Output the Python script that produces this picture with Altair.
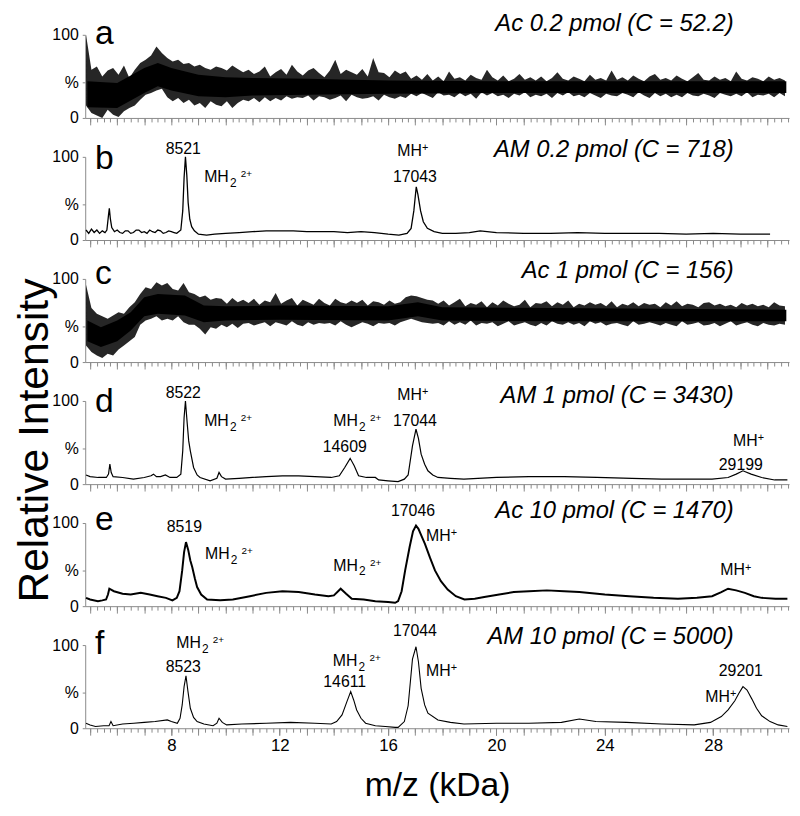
import altair as alt
import pandas as pd

FONT = "Liberation Sans"
X_DOMAIN = [4.82, 30.8]
PANEL_W, PANEL_H = 711, 84
GAP = 39.3

LETTERS = ["a", "b", "c", "d", "e", "f"]
TITLES = [
    "Ac 0.2 pmol (C = 52.2)",
    "AM 0.2 pmol (C = 718)",
    "Ac 1 pmol (C = 156)",
    "AM 1 pmol (C = 3430)",
    "Ac 10 pmol (C = 1470)",
    "AM 10 pmol (C = 5000)",
]
LETTER_Y = [9, 12, 5, 11, 7, 9]
TITLE_Y = [-4, 0, -1, 2, -5, -1]

X_LABELS = [8, 12, 16, 20, 24, 28]
X_MAJOR = list(range(5, 31))
X_MINOR = [5 + 0.25 * i for i in range(104)]

# noisy spectra (a, c): upper / lower envelope pairs, one pair every 0.2 kDa from 4.85 kDa
NOISE_START = 4.85
NOISE_STEP = 0.2
A_VALS = [
    100, 15, 58, 6, 62, 3, 50, 0, 57, 10,
    60, 4, 52, 1, 63, 8, 48, 12, 58, 15,
    66, 22, 70, 28, 75, 30, 86, 33, 78, 35,
    72, 25, 68, 20, 70, 24, 65, 18, 66, 22,
    62, 15, 64, 18, 60, 12, 58, 20, 62, 16,
    60, 14, 57, 20, 63, 12, 59, 18, 55, 22,
    58, 20, 53, 24, 56, 19, 62, 25, 50, 20,
    55, 24, 59, 21, 52, 26, 64, 23, 56, 25,
    51, 24, 57, 27, 60, 21, 54, 26, 49, 25,
    57, 22, 70, 24, 53, 27, 58, 20, 55, 28,
    52, 25, 59, 23, 50, 24, 72, 26, 55, 21,
    54, 28, 49, 25, 57, 23, 53, 26, 56, 24,
    47, 29, 51, 26, 46, 30, 53, 27, 45, 24,
    50, 31, 44, 27, 56, 28, 47, 25, 49, 30,
    45, 26, 52, 29, 48, 23, 46, 31, 58, 27,
    49, 30, 45, 26, 51, 28, 44, 24, 47, 29,
    53, 27, 46, 31, 49, 25, 45, 28, 50, 26,
    44, 29, 48, 24, 55, 30, 47, 27, 45, 31,
    50, 26, 47, 28, 44, 25, 52, 30, 46, 27,
    48, 24, 45, 29, 57, 27, 46, 26, 49, 30,
    45, 28, 51, 25, 47, 31, 44, 27, 50, 24,
    53, 30, 46, 26, 48, 29, 45, 25, 51, 28,
    47, 25, 44, 30, 49, 27, 54, 26, 46, 29,
    45, 27, 50, 24, 46, 30, 48, 28, 44, 26,
    56, 29, 47, 26, 45, 31, 49, 25, 47, 28,
    44, 27, 50, 29, 46, 25, 48, 30, 45, 26,
]
C_VALS = [
    93, 20, 65, 12, 58, 8, 55, 5, 52, 10,
    56, 8, 60, 15, 58, 20, 66, 25, 72, 30,
    82, 45, 90, 50, 88, 52, 96, 55, 92, 50,
    95, 52, 88, 50, 86, 55, 95, 48, 84, 45,
    82, 45, 78, 40, 80, 33, 75, 42, 77, 40,
    76, 45, 70, 42, 77, 46, 72, 41, 75, 46,
    71, 47, 76, 44, 69, 46, 74, 48, 72, 43,
    83, 48, 70, 46, 74, 44, 77, 49, 68, 45,
    75, 43, 72, 48, 69, 45, 76, 47, 71, 46,
    68, 47, 76, 44, 72, 49, 70, 45, 74, 42,
    71, 45, 75, 48, 68, 46, 73, 43, 72, 47,
    69, 46, 74, 47, 70, 44, 72, 48, 78, 50,
    80, 52, 79, 50, 77, 48, 75, 47, 74, 46,
    70, 47, 74, 44, 68, 49, 72, 45, 76, 48,
    67, 45, 71, 50, 69, 44, 73, 47, 66, 46,
    72, 48, 68, 43, 74, 46, 70, 49, 67, 44,
    69, 46, 75, 48, 66, 45, 71, 43, 70, 47,
    73, 44, 67, 49, 72, 46, 69, 45, 74, 48,
    66, 45, 70, 47, 68, 43, 72, 49, 69, 46,
    71, 48, 67, 44, 73, 46, 66, 47, 70, 45,
    68, 43, 72, 49, 67, 45, 71, 46, 69, 48,
    70, 46, 66, 44, 72, 47, 68, 45, 73, 43,
    67, 49, 70, 45, 69, 46, 66, 48, 71, 44,
    72, 45, 68, 47, 70, 43, 67, 46, 69, 49,
    66, 44, 71, 46, 68, 48, 70, 45, 67, 43,
    69, 47, 66, 45, 72, 44, 68, 46, 67, 45,
]

# dense dark core of the noisy traces: (kDa, low, high)
A_CORE = [(4.9, 13, 44), (6.0, 12, 42), (7.0, 30, 60), (7.5, 38, 66), (8.0, 33, 60),
          (9.0, 26, 52), (10.0, 25, 49), (11.0, 27, 48), (13.0, 28, 47), (16.0, 29, 45),
          (20.0, 30, 44), (25.0, 30, 44), (30.7, 30, 44)]
C_CORE = [(4.9, 25, 50), (5.4, 18, 42), (6.0, 25, 50), (6.5, 38, 60), (7.0, 55, 78),
          (7.5, 58, 82), (8.5, 56, 80), (9.2, 48, 68), (10.0, 50, 67), (12.0, 51, 68),
          (16.0, 50, 67), (17.1, 55, 72), (18.0, 50, 66), (22.0, 49, 65), (26.0, 49, 64),
          (30.7, 49, 63)]

B_PTS = [(4.85, 12), (4.95, 8), (5.05, 13), (5.15, 9), (5.25, 12), (5.35, 8), (5.45, 11),
         (5.55, 9), (5.62, 12), (5.68, 30), (5.71, 38), (5.75, 25), (5.8, 15), (5.9, 10),
         (6.0, 12), (6.1, 9), (6.2, 8), (6.3, 11), (6.4, 11), (6.5, 8), (6.6, 9), (6.7, 12),
         (6.8, 12), (6.9, 9), (7.0, 10), (7.1, 8), (7.2, 12), (7.3, 10), (7.4, 9), (7.5, 12),
         (7.6, 11), (7.7, 8), (7.8, 9), (7.9, 11), (8.0, 10), (8.1, 9), (8.2, 8), (8.35, 12),
         (8.42, 35), (8.47, 75), (8.52, 100), (8.57, 78), (8.62, 45), (8.68, 25), (8.75, 16),
         (8.85, 11), (9.0, 7), (9.3, 6), (9.6, 7), (10.0, 8), (10.5, 9), (11.0, 10), (11.5, 11),
         (12.0, 11), (12.5, 11), (13.0, 10), (13.5, 10), (14.0, 10), (14.5, 9), (15.0, 10),
         (15.5, 9), (16.0, 7), (16.4, 6), (16.7, 8), (16.85, 14), (16.95, 35), (17.04, 64),
         (17.1, 55), (17.2, 35), (17.3, 22), (17.45, 14), (17.7, 10), (18.0, 8), (18.5, 8),
         (19.0, 9), (19.4, 11), (20.0, 9), (21.0, 8), (22.0, 8), (23.0, 9), (24.0, 8),
         (25.0, 8), (26.0, 8), (27.0, 7), (28.0, 8), (29.0, 7), (30.1, 7)]

D_PTS = [(4.85, 11), (5.0, 9), (5.3, 8), (5.6, 8), (5.68, 12), (5.73, 24), (5.78, 14),
         (5.85, 9), (6.2, 8), (6.6, 6), (7.0, 8), (7.25, 10), (7.34, 12), (7.45, 9), (7.6, 9),
         (7.78, 11), (7.95, 8), (8.2, 8), (8.35, 12), (8.42, 40), (8.47, 80), (8.52, 100),
         (8.58, 75), (8.64, 52), (8.70, 40), (8.82, 20), (8.95, 11), (9.06, 8), (9.43, 4),
         (9.68, 7), (9.76, 14), (9.85, 9), (10.0, 6), (10.5, 7), (11.0, 8), (11.5, 9),
         (12.1, 10), (12.7, 10), (13.3, 9), (13.9, 8), (14.2, 10), (14.4, 20), (14.6, 31),
         (14.75, 22), (14.91, 10), (15.2, 8), (15.53, 8), (15.65, 5), (16.0, 4), (16.37, 3),
         (16.6, 6), (16.74, 11), (16.9, 46), (17.03, 66), (17.12, 55), (17.22, 36), (17.35, 24),
         (17.47, 16), (17.65, 11), (17.84, 8), (18.3, 7), (18.8, 6), (20.0, 8), (21.2, 9),
         (22.5, 9), (23.7, 8), (25.0, 7), (26.1, 6), (27.0, 6), (27.96, 6), (28.55, 8),
         (28.85, 12), (29.1, 16), (29.4, 12), (29.79, 8), (30.27, 5), (30.74, 5)]

E_PTS = [(4.85, 10), (5.0, 8), (5.29, 6), (5.45, 7), (5.59, 8), (5.66, 14), (5.71, 21),
         (5.88, 18), (6.2, 15), (6.5, 14), (6.87, 16), (7.2, 14), (7.49, 12), (7.8, 10),
         (8.04, 7), (8.2, 10), (8.30, 18), (8.40, 43), (8.47, 65), (8.54, 77), (8.62, 68),
         (8.70, 55), (8.77, 47), (8.87, 33), (8.95, 23), (9.1, 14), (9.32, 8), (9.8, 7),
         (10.27, 8), (10.9, 12), (11.5, 16), (12.1, 18), (12.7, 17), (13.3, 14), (13.8, 12),
         (14.0, 13), (14.25, 21), (14.45, 15), (14.66, 9), (15.1, 8), (15.53, 6), (16.0, 5),
         (16.26, 4), (16.37, 6), (16.5, 18), (16.63, 43), (16.8, 72), (16.92, 90), (17.03, 97),
         (17.12, 93), (17.24, 84), (17.36, 75), (17.55, 58), (17.73, 43), (17.95, 30),
         (18.2, 20), (18.5, 12), (18.82, 8), (19.2, 9), (19.55, 11), (20.1, 14), (20.64, 17),
         (21.2, 18), (21.86, 19), (22.5, 18), (23.06, 17), (24.0, 14), (24.9, 12), (25.8, 10),
         (26.7, 9), (27.4, 10), (27.96, 12), (28.3, 17), (28.55, 21), (28.85, 19), (29.17, 16),
         (29.5, 12), (29.79, 10), (30.3, 9), (30.74, 9)]

F_PTS = [(4.85, 6), (5.0, 4), (5.2, 2), (5.5, 3), (5.7, 3), (5.77, 8), (5.85, 3), (6.2, 5),
         (6.61, 6), (7.0, 7), (7.4, 8), (7.85, 10), (8.0, 8), (8.22, 6), (8.32, 12), (8.40, 28),
         (8.47, 50), (8.54, 63), (8.61, 45), (8.70, 24), (8.82, 13), (8.95, 8), (9.2, 5),
         (9.54, 3), (9.68, 6), (9.76, 12), (9.88, 7), (10.04, 4), (10.6, 5), (11.5, 6),
         (12.4, 7), (13.3, 6), (13.9, 5), (14.1, 8), (14.3, 16), (14.48, 32), (14.62, 44),
         (14.73, 34), (14.84, 22), (15.0, 12), (15.17, 6), (15.53, 3), (15.9, 2), (16.26, 1),
         (16.37, 1), (16.6, 8), (16.74, 27), (16.9, 83), (17.03, 98), (17.12, 80), (17.22, 48),
         (17.35, 28), (17.47, 18), (17.84, 10), (18.3, 7), (18.8, 5), (20.0, 6), (21.2, 6),
         (22.4, 7), (23.06, 11), (23.67, 8), (24.8, 7), (26.1, 5), (27.3, 4), (27.9, 7),
         (28.3, 14), (28.55, 22), (28.8, 33), (28.95, 42), (29.1, 50), (29.25, 46), (29.43, 35),
         (29.6, 24), (29.79, 15), (30.1, 8), (30.4, 4), (30.74, 2)]

# annotations: (kind, text, kDa, intensity of text baseline)
B_ANN = [("num", "8521", 8.44, 103.6), ("mh2", "MH", 9.21, 70.2),
         ("mh", "MH", 16.34, 101.2), ("num", "17043", 16.99, 70.2)]
D_ANN = [("num", "8522", 8.44, 103.6), ("mh2", "MH", 9.21, 70.2), ("mh2", "MH", 13.98, 70.2),
         ("num", "14609", 14.40, 38.1), ("mh", "MH", 16.34, 101.2), ("num", "17044", 16.99, 70.2),
         ("mh", "MH", 28.73, 46.4), ("num", "29199", 29.02, 16.7)]
E_ANN = [("num", "8519", 8.48, 89.3), ("mh2", "MH", 9.24, 57.1), ("mh2", "MH", 13.98, 42.9),
         ("num", "17046", 16.92, 108.3), ("mh", "MH", 17.40, 78.6), ("mh", "MH", 28.26, 36.9)]
F_ANN = [("mh2", "MH", 8.18, 96.0), ("num", "8523", 8.44, 67.9), ("mh2", "MH", 13.96, 75.0),
         ("num", "14611", 14.40, 50.0), ("num", "17044", 16.99, 110.7), ("mh", "MH", 17.40, 63.1),
         ("num", "29201", 29.02, 63.1), ("mh", "MH", 27.71, 32.1)]

x_scale = alt.Scale(domain=X_DOMAIN, nice=False, zero=False)
y_scale = alt.Scale(domain=[0, 100], nice=False)
GRAY = "#8a8a8a"

Y_AXIS = alt.Axis(
    values=[0, 43, 100],
    labelExpr="datum.value === 43 ? '%' : datum.label",
    tickSize=3, labelFontSize=16, labelFont=FONT, labelColor="black", labelPadding=4,
    domainColor=GRAY, tickColor=GRAY, grid=False, title=None,
)


def envelope_df(vals):
    hi = vals[0::2]
    lo = vals[1::2]
    return pd.DataFrame({"x": [round(NOISE_START + NOISE_STEP * k, 3) for k in range(len(hi))],
                         "hi": hi, "lo": lo})


def pts_df(pts):
    return pd.DataFrame(pts, columns=["x", "y"])


def core_df(core):
    return pd.DataFrame(core, columns=["x", "lo", "hi"])


def yenc(field):
    return alt.Y(field, scale=y_scale, axis=Y_AXIS)


def make_panel(i, line_df=None, stroke=1.0, env=None, core=None, ann=None, bottom=False,
               ytitle=False):
    minor_axis = alt.Axis(values=X_MINOR, tickSize=4, labels=False, orient="bottom",
                          domainColor=GRAY, tickColor=GRAY, grid=False, title=None)
    major_axis = alt.Axis(values=X_MAJOR, tickSize=7, labels=False, domain=False,
                          orient="bottom", tickColor=GRAY, grid=False, title=None)
    label_axis = alt.Axis(values=X_LABELS, tickSize=7, domain=False, orient="bottom",
                          tickColor=GRAY, grid=False, labelFontSize=17, labelFont=FONT,
                          labelColor="black", labelPadding=3, labelOverlap=False,
                          labelFlush=False,
                          title="m/z (kDa)", titleFontSize=34, titleFont=FONT,
                          titleFontWeight="normal", titleColor="black", titlePadding=15)
    layers = []
    if env is not None:
        edf = envelope_df(env)
        layers.append(
            alt.Chart(edf).mark_area(color="black", opacity=0.85).encode(
                x=alt.X("x:Q", scale=x_scale, axis=minor_axis),
                y=yenc("lo:Q"),
                y2="hi:Q",
            )
        )
        layers.append(
            alt.Chart(core_df(core)).mark_area(color="black", opacity=1).encode(
                x=alt.X("x:Q", scale=x_scale, axis=None),
                y=yenc("lo:Q"),
                y2="hi:Q",
            )
        )
        guide_df, gy = edf, "hi:Q"
    else:
        layers.append(
            alt.Chart(line_df).mark_line(color="black", strokeWidth=stroke, clip=False).encode(
                x=alt.X("x:Q", scale=x_scale, axis=minor_axis),
                y=yenc("y:Q"),
            )
        )
        guide_df, gy = line_df, "y:Q"
    layers.append(
        alt.Chart(guide_df).mark_line(strokeOpacity=0).encode(
            x=alt.X("x:Q", scale=x_scale, axis=major_axis),
            y=yenc(gy),
        )
    )
    if bottom:
        layers.append(
            alt.Chart(guide_df).mark_line(strokeOpacity=0).encode(
                x=alt.X("x:Q", scale=x_scale, axis=label_axis),
                y=yenc(gy),
            )
        )
    lab = pd.DataFrame({"t": [LETTERS[i]]})
    layers.append(
        alt.Chart(lab).mark_text(font=FONT, fontSize=34, align="left", baseline="alphabetic",
                                 color="black").encode(
            text="t:N", x=alt.value(10), y=alt.value(LETTER_Y[i]))
    )
    tt = pd.DataFrame({"t": [TITLES[i]]})
    layers.append(
        alt.Chart(tt).mark_text(font=FONT, fontSize=24, fontStyle="italic", align="right",
                                baseline="alphabetic", color="black").encode(
            text="t:N", x=alt.value(655), y=alt.value(TITLE_Y[i]))
    )
    if ytitle:
        yt = pd.DataFrame({"t": ["Relative Intensity"]})
        layers.append(
            alt.Chart(yt).mark_text(font=FONT, fontSize=43, angle=270, align="center",
                                    baseline="middle", color="black").encode(
                text="t:N", x=alt.value(-51), y=alt.value(40))
        )
    if ann is not None:
        adf = pd.DataFrame(ann, columns=["kind", "text", "x", "y"])
        base = alt.Chart(adf)
        ax = alt.X("x:Q", scale=x_scale, axis=None)
        ay = yenc("y:Q")
        layers.append(
            base.transform_filter("datum.kind === 'num'").mark_text(
                font=FONT, fontSize=16, align="center", baseline="alphabetic", color="black"
            ).encode(x=ax, y=ay, text="text:N")
        )
        layers.append(
            base.transform_filter("datum.kind !== 'num'").mark_text(
                font=FONT, fontSize=16, align="left", baseline="alphabetic", color="black"
            ).encode(x=ax, y=ay, text="text:N")
        )
        layers.append(
            base.transform_filter("datum.kind === 'mh2'").mark_text(
                font=FONT, fontSize=12, align="left", baseline="alphabetic", color="black",
                dx=26, dy=5
            ).encode(x=ax, y=ay, text=alt.value("2"))
        )
        layers.append(
            base.transform_filter("datum.kind === 'mh2'").mark_text(
                font=FONT, fontSize=10, align="left", baseline="alphabetic", color="black",
                dx=37, dy=-5
            ).encode(x=ax, y=ay, text=alt.value("2+"))
        )
        layers.append(
            base.transform_filter("datum.kind === 'mh'").mark_text(
                font=FONT, fontSize=11, align="left", baseline="alphabetic", color="black",
                dx=25, dy=-5
            ).encode(x=ax, y=ay, text=alt.value("+"))
        )
    return (alt.layer(*layers).resolve_axis(x="independent", y="shared")
            .properties(width=PANEL_W, height=PANEL_H))


panels = [
    make_panel(0, env=A_VALS, core=A_CORE),
    make_panel(1, pts_df(B_PTS), 1.3, ann=B_ANN),
    make_panel(2, env=C_VALS, core=C_CORE),
    make_panel(3, pts_df(D_PTS), 1.2, ann=D_ANN, ytitle=True),
    make_panel(4, pts_df(E_PTS), 2.0, ann=E_ANN),
    make_panel(5, pts_df(F_PTS), 1.1, ann=F_ANN, bottom=True),
]

chart = alt.vconcat(*panels, spacing=GAP, bounds="flush").properties(
    padding={"left": 5, "top": 0, "right": 0, "bottom": 0},
    background="white",
).configure_view(strokeWidth=0)

chart.save("out.html", embed_options={"renderer": "svg", "actions": False})
